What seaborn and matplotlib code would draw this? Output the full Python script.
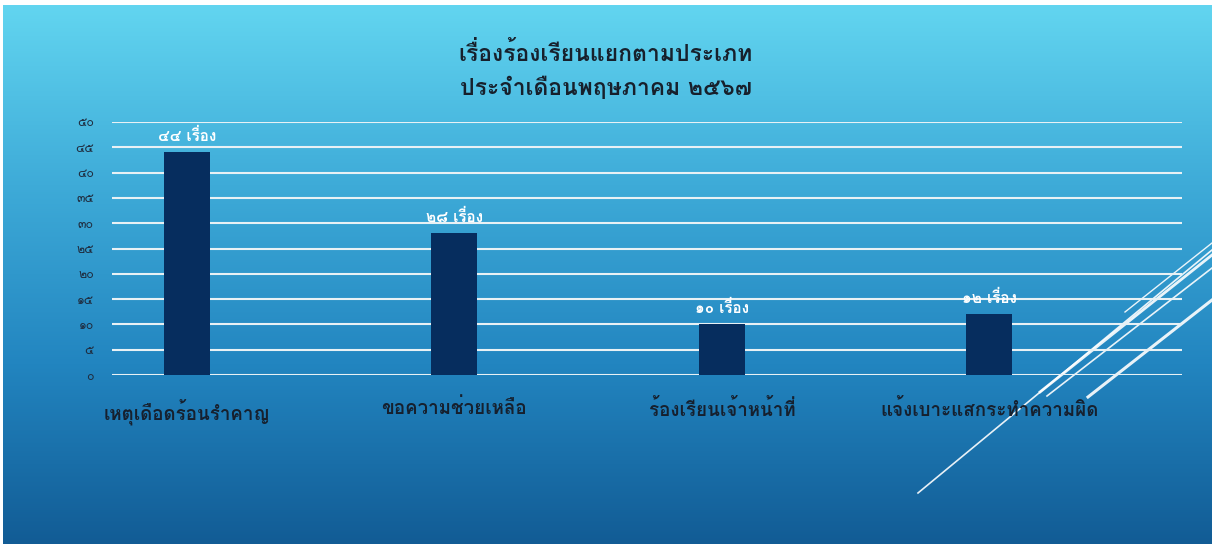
import numpy as np
import pandas as pd
import matplotlib
matplotlib.use("Agg")
import matplotlib.pyplot as plt
from matplotlib.colors import LinearSegmentedColormap
from matplotlib.lines import Line2D
import seaborn as sns

# ข้อมูล
categories = ["เหตุเดือดร้อนรำคาญ", "ขอความช่วยเหลือ", "ร้องเรียนเจ้าหน้าที่", "แจ้งเบาะแสกระทำความผิด"]
counts = [44, 28, 10, 12]
value_labels = ["๔๔ เรื่อง", "๒๘ เรื่อง", "๑๐ เรื่อง", "๑๒ เรื่อง"]
y_ticks = [0, 5, 10, 15, 20, 25, 30, 35, 40, 45, 50]
y_tick_labels = ["๐", "๕", "๑๐", "๑๕", "๒๐", "๒๕", "๓๐", "๓๕", "๔๐", "๔๕", "๕๐"]
title = "เรื่องร้องเรียนแยกตามประเภท\nประจำเดือนพฤษภาคม ๒๕๖๗"

plt.rcParams['font.family'] = ['Loma', 'Noto Sans Thai Looped', 'DejaVu Sans']

W, H = 1212, 544
fig = plt.figure(figsize=(W / 100, H / 100), dpi=100)
fig.patch.set_facecolor("white")

# พื้นหลังไล่สี
bg = fig.add_axes([3 / W, 0, 1 - 3 / W, 1 - 5 / H], zorder=0)
cmap = LinearSegmentedColormap.from_list("bg", ["#62d5f0", "#3eabd8", "#2285c0", "#125c95"])
grad = np.linspace(0, 1, 256).reshape(-1, 1)
bg.imshow(grad, aspect="auto", cmap=cmap, extent=[0, 1, 0, 1], origin="upper")
bg.set_axis_off()

# เส้นตกแต่ง
deco = [
    ((918, 493), (1212, 250), 1.2),
    ((1040, 392), (1212, 255), 2.0),
    ((1047, 396), (1212, 268), 1.2),
    ((1088, 397), (1212, 300), 2.2),
    ((1125, 312), (1212, 243), 1.0),
]
for (x0, y0), (x1, y1), lw in deco:
    fig.add_artist(Line2D([x0 / W, x1 / W], [1 - y0 / H, 1 - y1 / H], transform=fig.transFigure,
                          color="white", lw=lw, alpha=0.9, zorder=1))

ax = fig.add_axes([112 / W, 169 / H, 1070 / W, 253 / H], zorder=2)
ax.patch.set_alpha(0)

df = pd.DataFrame({"category": categories, "count": counts})
sns.barplot(data=df, x="category", y="count", color="#062d5e", saturation=1, width=0.172, ax=ax)

ax.set_xlim(-0.28, 3.72)
ax.set_ylim(0, 50)
ax.set_yticks(y_ticks)
ax.set_yticklabels(y_tick_labels, fontsize=9, color="#1f2a3c")
ax.tick_params(axis="y", length=0, pad=13)
ax.tick_params(axis="x", length=0, pad=17, labelsize=13.5, labelcolor="#16202e")
for t in ax.get_xticklabels():
    t.set_fontweight("bold")
ax.set_xlabel("")
ax.set_ylabel("")
ax.yaxis.grid(True, color="#e8f1f5", lw=1.5)
ax.set_axisbelow(True)
for s in ax.spines.values():
    s.set_visible(False)

ax.bar_label(ax.containers[0], labels=value_labels, padding=6, color="white",
             fontsize=11, fontweight="bold")

fig.text(0.5, 1 - 70 / H, title, ha="center", va="center", fontsize=16.5,
         color="#17202c", linespacing=1.55, fontweight="bold")

fig.savefig("out.png", dpi=100)
